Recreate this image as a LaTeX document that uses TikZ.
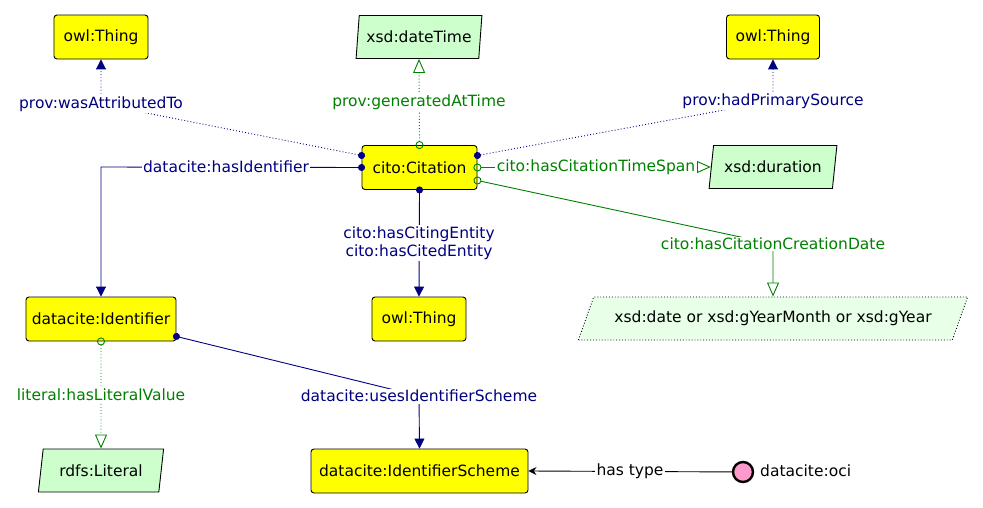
\documentclass[tikz,border=0pt]{standalone}
\usepackage{fontspec}
\setmainfont{DejaVu Sans}
\usetikzlibrary{arrows.meta,shapes.geometric}
\definecolor{navy}{RGB}{0,0,128}
\definecolor{dkgreen}{RGB}{0,128,0}
\definecolor{clsyellow}{RGB}{255,255,0}
\definecolor{dtgreen}{RGB}{204,255,204}
\definecolor{dtlight}{RGB}{232,255,232}
\definecolor{indpink}{RGB}{255,153,204}
\begin{document}
\begin{tikzpicture}[x=1pt,y=-1pt,
  font=\fontsize{15.5}{17.5}\selectfont,
  cls/.style={draw=black, fill=clsyellow, rounded corners=3pt, line width=0.9pt, minimum height=44pt, inner sep=0pt},
  dtype/.style={trapezium, trapezium stretches=true, draw=black, fill=dtgreen, line width=0.9pt, minimum height=43pt, inner sep=0pt},
  lbl/.style={fill=white, inner sep=1.5pt},
  objp/.style={navy, line width=0.9pt},
  datap/.style={dkgreen, line width=0.9pt},
  dotp/.style={dash pattern=on 0.9pt off 2.2pt},
  objarr/.style={arrows={{Circle[length=7pt]}-{Triangle[length=10pt,width=10pt]}}, shorten <=-3.5pt},
  dataarr/.style={arrows={{Circle[open,length=8pt,line width=0.9pt]}-{Triangle[open,length=14pt,width=12pt,line width=0.9pt]}}, shorten <=-4pt},
  ]
\useasboundingbox (0,0) rectangle (983,508);
% classes
\node[cls, minimum width=94pt] (owlL) at (101,37) {owl:Thing};
\node[cls, minimum width=93pt] (owlR) at (773,37) {owl:Thing};
\node[cls, minimum width=115pt] (cit) at (419.5,167.5) {cito:Citation};
\node[cls, minimum width=150pt] (ident) at (101,319) {datacite:Identifier};
\node[cls, minimum width=94pt] (owlM) at (419,319) {owl:Thing};
\node[cls, minimum width=217pt] (scheme) at (419.5,471) {datacite:IdentifierScheme};
% datatypes
\node[dtype, minimum width=126pt, trapezium left angle=77, trapezium right angle=103] (dt) at (419,37) {xsd:dateTime};
\node[dtype, minimum width=128pt, trapezium left angle=73, trapezium right angle=107] (dur) at (773,167) {xsd:duration};
\node[dtype, minimum width=126pt, trapezium left angle=74, trapezium right angle=106] (lit) at (101,470.5) {rdfs:Literal};
\node[dtype, dotted, fill=dtlight, minimum width=390pt, trapezium left angle=48, trapezium right angle=132] (dates) at (773,318.5) {xsd:date or xsd:gYearMonth or xsd:gYear};
% individual
\node[circle, draw=black, fill=indpink, line width=2.4pt, minimum size=20pt, inner sep=0pt] (oci) at (743,472) {};
\node[anchor=west, inner sep=0pt] (ocilbl) at (760,471) {datacite:oci};
% label positions
\coordinate (cAttr) at (101,104);
\coordinate (cGen) at (419,102);
\coordinate (cPS) at (773,101);
\coordinate (cHI) at (101,167);
\coordinate (cCD) at (773,244);
\coordinate (cUIS) at (419,396);
% edges
\draw[objp, dotp, objarr] ([yshift=12pt]cit.west) -- (cAttr) -- (owlL.south);
\draw[datap, dotp, dataarr] (cit.north) -- (dt.south);
\draw[objp, dotp, objarr] ([yshift=12pt]cit.east) -- (cPS) -- (owlR.south);
\draw[objp, objarr] (cit.west) -- (cHI) -- (ident.north);
\draw[datap, dataarr] (cit.east) -- (dur.west);
\draw[datap, dataarr] ([yshift=-13pt]cit.east) -- (cCD) -- (dates.north);
\draw[objp, objarr] (cit.south) -- (owlM.north);
\draw[datap, dotp, dataarr] (ident.south) -- (lit.north);
\draw[objp, objarr] ([yshift=5pt]ident.south east) -- (cUIS) -- (scheme.north);
\draw[black, line width=0.9pt, -{Stealth[length=8pt,width=8pt]}] (oci) -- (scheme.east);
% edge labels
\node[lbl, text=navy] (lAttr) at (cAttr) {prov:wasAttributedTo};
\node[lbl, text=dkgreen] (lGen) at (cGen) {prov:generatedAtTime};
\node[lbl, text=navy] (lPS) at (cPS) {prov:hadPrimarySource};
\node[lbl, text=navy] (lHI) at (226,167) {datacite:hasIdentifier};
\node[lbl, text=dkgreen] (lTS) at (596,167) {cito:hasCitationTimeSpan};
\node[lbl, text=dkgreen] (lCD) at (cCD) {cito:hasCitationCreationDate};
\node[lbl, text=navy, align=center] (lCE) at (419,243) {cito:hasCitingEntity\\cito:hasCitedEntity};
\node[lbl, text=dkgreen] (lLV) at (101,395) {literal:hasLiteralValue};
\node[lbl, text=navy] (lUIS) at (cUIS) {datacite:usesIdentifierScheme};
\node[lbl, text=black] (lHT) at (630,471) {has type};
\end{tikzpicture}
\end{document}
